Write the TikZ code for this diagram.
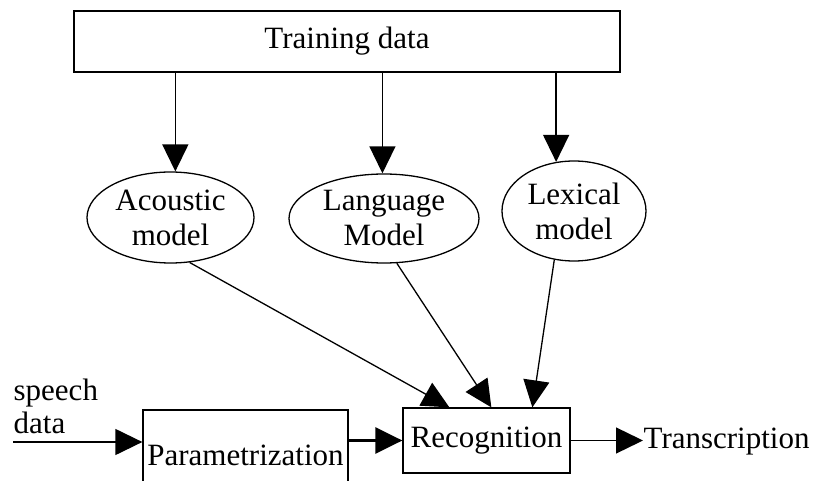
\documentclass[tikz,border=0pt]{standalone}
\usepackage{fontspec}
\setmainfont{Liberation Serif}
\usetikzlibrary{shapes.geometric,arrows.meta}

\begin{document}
\begin{tikzpicture}[x=1pt, y=-1pt, line width=1.3pt,
    font=\fontsize{31}{35}\selectfont,
    box/.style={draw, rectangle, inner sep=0pt},
    model/.style={draw, ellipse, inner sep=0pt, align=center},
    tip/.style={-{Triangle[length=27pt, width=26pt]}}]
    \useasboundingbox (0,0) rectangle (820,481);
    \clip (0,0) rectangle (820,481);

    % ノードを置く
    \node[box, minimum width=546pt, minimum height=61pt] (train) at (347,41.5) {Training data};
    \node[model, minimum width=167pt, minimum height=91pt] (acoustic) at (170.5,217.5) {Acoustic\\model};
    \node[model, minimum width=190pt, minimum height=89pt] (language) at (384,218.5) {Language\\Model};
    \node[model, minimum width=144pt, minimum height=100pt] (lexical) at (574,211) {Lexical\\model};
    \node[box, minimum width=205pt, minimum height=90pt] (param) at (245.5,455) {Parametrization};
    \node[box, minimum width=167pt, minimum height=65pt] (recog) at (486.5,440.5) {Recognition};
    \node[anchor=west, inner sep=0pt] (trans) at (643,442) {Transcription};
    \node[anchor=north west, inner sep=0pt, align=left, font=\fontsize{31}{33}\selectfont] (speech) at (13,378) {speech\\data};
    \coordinate (speechin) at (13,442);

    % 矢印を引く
    \draw[tip] (train.south -| acoustic.84) -- (acoustic.84);
    \draw[tip] (train.south -| language.92) -- (language.92);
    \draw[tip] (train.south -| lexical.110) -- (lexical.110);

    \draw[tip] (acoustic.-67) -- ([xshift=47pt]recog.north west);
    \draw[tip] (language.-74) -- ([xshift=89pt]recog.north west);
    \draw[tip] (lexical.-112) -- ([xshift=130pt]recog.north west);

    \draw[tip] (speechin) -- (speechin -| param.west);
    \draw[tip, line width=2.6pt] (param.east |- recog.west) -- (recog.west);
    \draw[tip] (recog.east) -- (recog.east -| trans.west);
\end{tikzpicture}
\end{document}
